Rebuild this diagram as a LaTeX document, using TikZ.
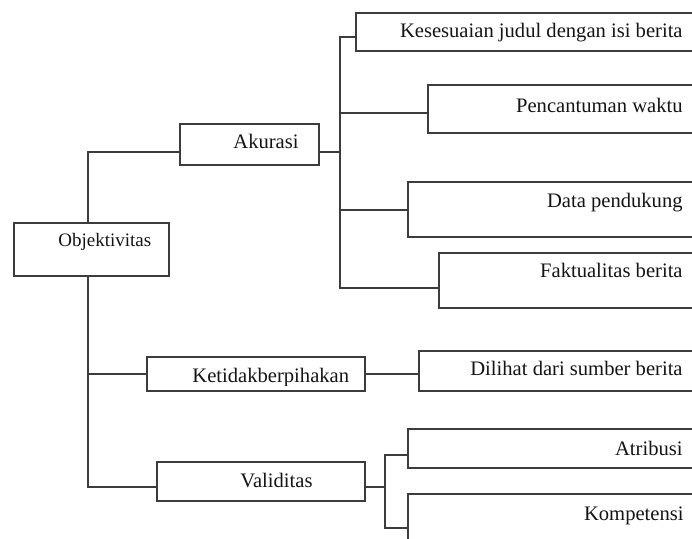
\documentclass[tikz,border=0pt]{standalone}
\usepackage{fontspec}
\setmainfont{Liberation Serif}
\usetikzlibrary{fit,calc}
\definecolor{lineGray}{HTML}{3C3C3C}
\definecolor{textDark}{HTML}{141414}
\tikzset{
  box/.style={draw=lineGray, line width=0.75pt, inner sep=0pt, fit={#1}},
  lbl/.style={inner sep=0pt, text=textDark, font=\fontsize{10.3pt}{12pt}\selectfont},
  link/.style={draw=lineGray, line width=0.75pt},
}
\begin{document}
\begin{tikzpicture}[x=0.5pt, y=-0.5pt]
\useasboundingbox (0,0) rectangle (692,539);
\clip (0,0) rectangle (692,539);
%% Boxes
\node[box={(14,223) (169,276)}]  (obj) {};
\node[box={(180,124) (319,165)}] (ak)  {};
\node[box={(147,357) (365,391)}] (kb)  {};
\node[box={(157,462) (365,501)}] (val) {};
\node[box={(356,13) (705,51)}]   (kes) {};
\node[box={(428,85) (705,133)}]  (pen) {};
\node[box={(408,182) (705,237)}] (dat) {};
\node[box={(439,253) (705,308)}] (fak) {};
\node[box={(419,351) (705,391)}] (dil) {};
\node[box={(408,429) (705,468)}] (atr) {};
\node[box={(408,494) (705,562)}] (kom) {};
%% Labels
\node[lbl, anchor=base west, font=\fontsize{9.5pt}{11pt}\selectfont] (objT) at (58,247) {Objektivitas};
\node[lbl, anchor=base west] (akT)  at (233,149) {Akurasi};
\node[lbl, anchor=base west] (valT) at (240,488) {Validitas};
\begin{scope}
  \clip (kb.north west) rectangle ($(kb.south east)+(0,-6)$);
  \node[lbl, anchor=base west] (kbT) at (192,383) {Ketidakberpihakan};
\end{scope}
\node[lbl, anchor=base east] (kesT) at (683,38)  {Kesesuaian judul dengan isi berita};
\node[lbl, anchor=base east] (penT) at (683,113) {Pencantuman waktu};
\node[lbl, anchor=base east] (datT) at (683,208) {Data pendukung};
\node[lbl, anchor=base east] (fakT) at (683,278) {Faktualitas berita};
\node[lbl, anchor=base east] (dilT) at (683,376) {Dilihat dari sumber berita};
\node[lbl, anchor=base east] (atrT) at (683,456) {Atribusi};
\node[lbl, anchor=base east] (komT) at (684,521) {Kompetensi};
%% Connectors
\coordinate (trunk) at (88,0);
\coordinate (busA) at (340,152);
\coordinate (busV) at (385,487);
\draw[link] (obj.north -| trunk) |- ($(ak.west)+(0,7.5)$);
\draw[link] (obj.south -| trunk) |- ($(val.west)+(0,5.5)$);
\draw[link] (kb.west -| trunk) -- (kb.west);
\draw[link] ($(ak.east)+(0,7.5)$) -- (busA);
\draw[link] ($(kes.west)+(0,5)$) -| (busA);
\draw[link] ($(pen.west)+(0,4)$) -| (busA);
\draw[link] ($(dat.west)+(0,0.5)$) -| (busA);
\draw[link] ($(fak.west)+(0,7.5)$) -| (busA);
\draw[link] (kb.east) -- (kb.east -| dil.west);
\draw[link] ($(val.east)+(0,5.5)$) -- (busV);
\draw[link] ($(atr.west)+(0,6.5)$) -| (busV);
\draw[link] (kom.west) -| (busV);
\end{tikzpicture}
\end{document}
